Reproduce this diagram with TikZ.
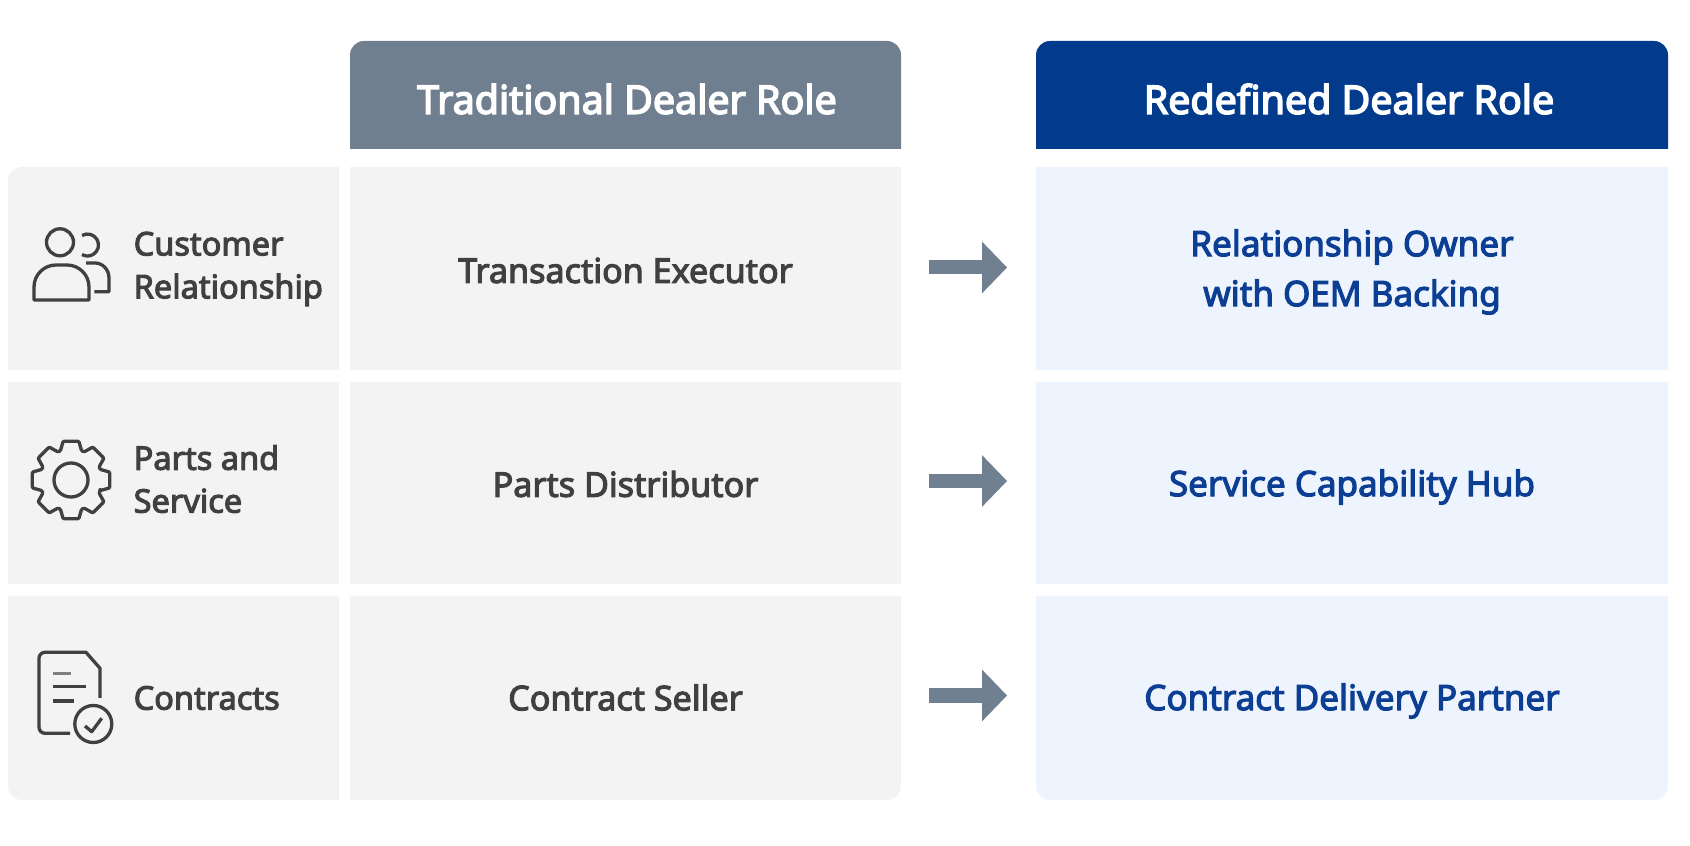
\documentclass[tikz,border=0pt]{standalone}
\usepackage{fontspec}
\setmainfont{Noto Sans}[RawFeature={embolden=3.2}]
\newfontfamily\headfont{Noto Sans}[RawFeature={embolden=3.8}]
\usetikzlibrary{arrows.meta}
\definecolor{headgray}{HTML}{6F7F8F}
\definecolor{headblue}{HTML}{023B8C}
\definecolor{cellgray}{HTML}{F3F3F3}
\definecolor{cellblue}{HTML}{EEF4FD}
\definecolor{inkgray}{HTML}{404040}
\definecolor{inkblue}{HTML}{0C3F94}
\definecolor{arrowgray}{HTML}{708091}
\tikzset{
	headlabel/.style={text=white,font=\headfont\fontsize{11.2}{12}\selectfont},
	rowlabel/.style={anchor=west,align=left,inner sep=0pt,text=inkgray,font=\fontsize{9.25}{12.2}\selectfont},
	tradcell/.style={minimum width=5.51cm,minimum height=2.03cm,inner sep=0pt,text=inkgray,font=\fontsize{9.7}{12}\selectfont},
	newcell/.style={minimum width=6.32cm,minimum height=2.03cm,inner sep=0pt,align=center,text=inkblue,font=\fontsize{9.95}{14.2}\selectfont},
	flowarrow/.style={draw=arrowgray,line width=0.14cm,-{Triangle[length=0.25cm,width=0.5cm]},shorten <=0.27cm,shorten >=0.28cm},
	iconline/.style={draw=inkgray,line width=0.033cm,line join=round}
}
\begin{document}
\begin{tikzpicture}[x=0.01cm,y=0.01cm]
	\useasboundingbox (0,0) rectangle (1690,845);
	\fill[headgray] (350,696) [rounded corners=0.14cm] -- (350,804) -- (901,804) [sharp corners] -- (901,696) -- cycle;
	\fill[headblue] (1036,696) [rounded corners=0.14cm] -- (1036,804) -- (1668,804) [sharp corners] -- (1668,696) -- cycle;
	\fill[cellgray] (8,475) [rounded corners=0.14cm] -- (8,678) [sharp corners] -- (339,678) -- (339,475) -- cycle;
	\fill[cellgray] (8,261) rectangle (339,463);
	\fill[cellgray] (339,249) -- (8,249) [rounded corners=0.14cm] -- (8,45) [sharp corners] -- (339,45) -- cycle;
	\fill[cellgray] (350,475) rectangle (901,678);
	\fill[cellgray] (350,261) rectangle (901,463);
	\fill[cellgray] (350,249) -- (350,45) [rounded corners=0.14cm] -- (901,45) [sharp corners] -- (901,249) -- cycle;
	\fill[cellblue] (1036,475) rectangle (1668,678);
	\fill[cellblue] (1036,261) rectangle (1668,463);
	\fill[cellblue] (1036,249) [rounded corners=0.14cm] -- (1036,45) -- (1668,45) [sharp corners] -- (1668,249) -- cycle;
	\node[headlabel] (headtrad) at (627,746) {Traditional Dealer Role};
	\node[headlabel] (headnew) at (1349,746) {Redefined Dealer Role};
	\node[rowlabel] (rowcust) at (133,576) {Customer\\Relationship};
	\node[rowlabel] (rowparts) at (133,366) {Parts and\\Service};
	\node[rowlabel] (rowcontr) at (133,147) {Contracts};
	\node[tradcell] (trad1) at (625.5,574.5) {Transaction Executor};
	\node[tradcell] (trad2) at (625.5,361) {Parts Distributor};
	\node[tradcell] (trad3) at (625.5,147.5) {Contract Seller};
	\node[newcell] (new1) at (1352,573) {Relationship Owner\\with OEM Backing};
	\node[newcell] (new2) at (1352,358) {Service Capability Hub};
	\node[newcell] (new3) at (1352,144) {Contract Delivery Partner};
	\draw[flowarrow] ([yshift=0.03cm]trad1.east) -- ([yshift=0.03cm]trad1.east -| new1.west);
	\draw[flowarrow] ([yshift=0.03cm]trad2.east) -- ([yshift=0.03cm]trad2.east -| new2.west);
	\draw[flowarrow] ([yshift=0.02cm]trad3.east) -- ([yshift=0.02cm]trad3.east -| new3.west);
	\draw[iconline] (60,602.7) circle (13.5);
	\draw[iconline] (82,609.5) arc (120:-120:11);
	\draw[iconline] (34,545) -- (34,558) arc (180:90:22) -- (67,580) arc (90:0:22) -- (89,545) -- cycle;
	\draw[iconline] (86,582) -- (95,582) to[out=0,in=90] (109,567) -- (109,553.3) -- (94.3,553.3);
	\draw[iconline,rounded corners=0.01cm,shift={(71,365)}] (-20:31) \foreach \a in {0,45,...,315} { -- (\a-20:31) -- (\a-11.5:39.5) -- (\a+11.5:39.5) -- (\a+20:31) } -- cycle;
	\draw[iconline] (71,365) circle (17);
	\draw[iconline] (100,147) -- (100,176.7) -- (86,192.7) [rounded corners=0.06cm] -- (39,192.7) -- (39,111.7) [sharp corners] -- (70,111.7);
	\draw[iconline,draw=gray] (53,171.7) -- (71,171.7);
	\draw[iconline] (53,158.3) -- (86,158.3);
	\draw[iconline] (53,144) -- (74,144);
	\draw[iconline] (93.3,121) circle (18.5);
	\draw[iconline] (85,119) -- (91.7,113.3) -- (101.7,126.7);
\end{tikzpicture}
\end{document}
